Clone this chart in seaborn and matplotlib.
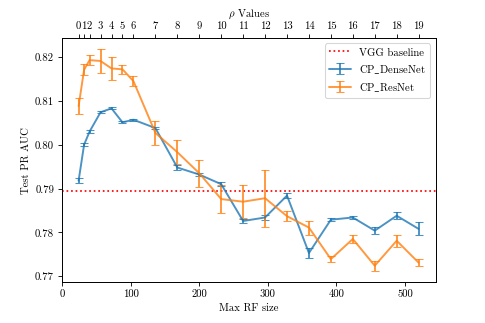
import matplotlib
matplotlib.use("Agg")
import matplotlib.pyplot as plt
import seaborn as sns

# Max receptive field size for each rho value
rho_values = list(range(20))
rf_sizes = [24, 32, 40, 56, 72, 88, 104, 136, 168, 200, 232, 264, 296, 328, 360, 392, 424, 456, 488, 520]

# Test PR AUC (mean and error) per model
densenet_mean = [0.7918, 0.8000, 0.8030, 0.8074, 0.8083, 0.8051, 0.8057, 0.8038, 0.7948, 0.7932,
                 0.7910, 0.7826, 0.7834, 0.7884, 0.7753, 0.7829, 0.7834, 0.7804, 0.7838, 0.7808]
densenet_err = [0.0005, 0.0003, 0.0003, 0.0002, 0.0002, 0.0002, 0.0002, 0.0003, 0.0005, 0.0003,
                0.0004, 0.0004, 0.0006, 0.0005, 0.0011, 0.0004, 0.0004, 0.0008, 0.0008, 0.0015]
resnet_mean = [0.8088, 0.8171, 0.8193, 0.8191, 0.8174, 0.8172, 0.8145, 0.8027, 0.7983, 0.7935,
               0.7876, 0.7870, 0.7878, 0.7837, 0.7811, 0.7739, 0.7785, 0.7724, 0.7781, 0.7731]
resnet_err = [0.0019, 0.0013, 0.0011, 0.0027, 0.0027, 0.0010, 0.0011, 0.0028, 0.0028, 0.0031,
              0.0031, 0.0038, 0.0065, 0.0011, 0.0016, 0.0007, 0.0009, 0.0011, 0.0014, 0.0008]

vgg_baseline = 0.7894

# Style setup (fonts set after seaborn so they are not overwritten)
sns.set_style("ticks", {"axes.edgecolor": "black", "xtick.color": "black", "ytick.color": "black",
                        "text.color": "black", "axes.labelcolor": "black"})
plt.rcParams['font.family'] = 'serif'
plt.rcParams['font.serif'] = ['cmr10']
plt.rcParams['mathtext.fontset'] = 'cm'
plt.rcParams['axes.formatter.use_mathtext'] = True
plt.rcParams['axes.unicode_minus'] = False

palette = sns.color_palette("tab10")

fig, ax = plt.subplots(figsize=(6.3, 4.2), dpi=77)
fig.subplots_adjust(left=0.127, right=0.898, bottom=0.128, top=0.881)

# Baseline line
ax.axhline(vgg_baseline, color='red', linestyle=':', linewidth=1.6, label='VGG baseline')

# Plot both models with error bars
ax.errorbar(rf_sizes, densenet_mean, yerr=densenet_err, color=palette[0], alpha=0.8,
            capsize=4, linewidth=1.8, label=r'CP$\_$DenseNet')
ax.errorbar(rf_sizes, resnet_mean, yerr=resnet_err, color=palette[1], alpha=0.8,
            capsize=4, linewidth=1.8, label=r'CP$\_$ResNet')

ax.set_xlabel('Max RF size')
ax.set_ylabel('Test PR AUC')
ax.set_yticks([0.77, 0.78, 0.79, 0.80, 0.81, 0.82])
ax.set_yticklabels(['0.77', '0.78', '0.79', '0.80', '0.81', '0.82'])
ax.set_xticks([0, 100, 200, 300, 400, 500])
ax.set_xticklabels(['0', '100', '200', '300', '400', '500'])

ax.legend(loc='upper right')

# Top axis with rho values at the matching RF sizes
ax_top = ax.twiny()
ax_top.set_xlim(ax.get_xlim())
ax_top.set_xticks(rf_sizes)
ax_top.set_xticklabels([str(r) for r in rho_values])
ax_top.set_xlabel(r'$\rho$ Values')

plt.savefig('out.png', dpi=77)
